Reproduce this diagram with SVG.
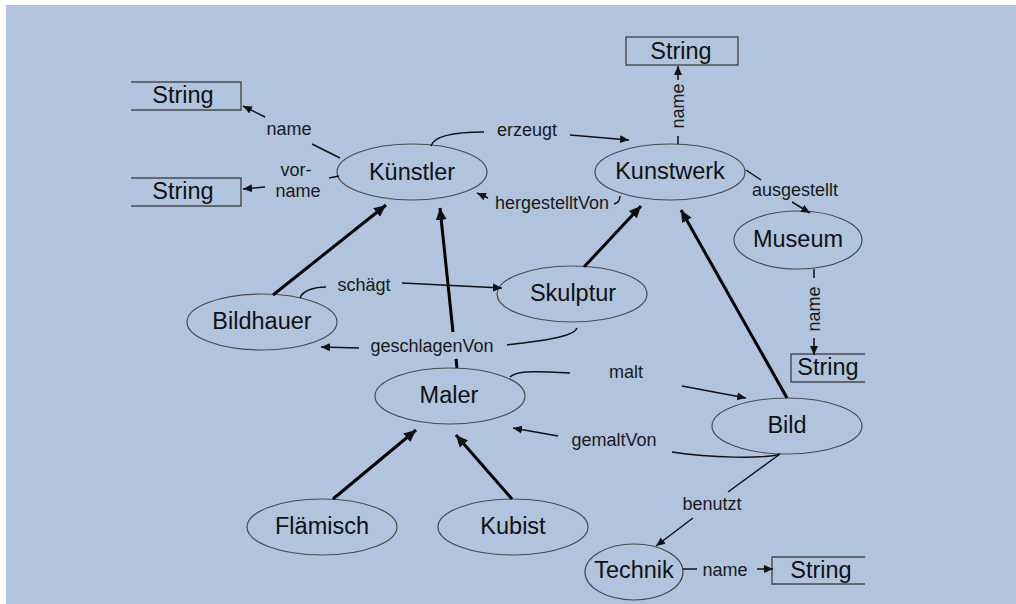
<svg xmlns="http://www.w3.org/2000/svg" width="1016" height="604" viewBox="0 0 1016 604">
  <defs>
    <marker id="ah" markerUnits="userSpaceOnUse" markerWidth="10" markerHeight="10" refX="9" refY="5" orient="auto">
      <path d="M0,1 L9,5 L0,9 Z" fill="#111"/>
    </marker>
    <marker id="ahBig" markerUnits="userSpaceOnUse" markerWidth="14" markerHeight="14" refX="12" refY="7" orient="auto">
      <path d="M0,1.5 L12,7 L0,12.5 Z" fill="#111"/>
    </marker>
    <style>
      .node ellipse { fill: none; stroke: #4a4a4a; stroke-width: 1.2; }
      .box { fill: none; stroke: #4a4a4a; stroke-width: 1.4; }
      .lbl { font-family: "Liberation Sans", Arial, sans-serif; font-size: 23.5px; fill: #111; text-anchor: middle; }
      .elbl { font-family: "Liberation Sans", Arial, sans-serif; font-size: 18px; fill: #1a1a1a; text-anchor: middle; }
      .thin { fill: none; stroke: #111; stroke-width: 1.5; }
      .thick { fill: none; stroke: #000; stroke-width: 3; }
    </style>
  </defs>

  <rect x="0" y="0" width="1016" height="604" fill="#ffffff"/>
  <rect x="6" y="5" width="1010" height="599" fill="#b0c4de"/>

  <!-- classes -->
  <g id="kuenstler" class="node"><ellipse cx="412" cy="172" rx="75" ry="28"/><text class="lbl" x="412" y="180">Künstler</text></g>
  <g id="kunstwerk" class="node"><ellipse cx="670" cy="172" rx="75" ry="28"/><text class="lbl" x="670" y="179">Kunstwerk</text></g>
  <g id="museum" class="node"><ellipse cx="798" cy="240" rx="64" ry="29"/><text class="lbl" x="798" y="247">Museum</text></g>
  <g id="skulptur" class="node"><ellipse cx="572" cy="294" rx="75" ry="28"/><text class="lbl" x="573" y="301">Skulptur</text></g>
  <g id="bildhauer" class="node"><ellipse cx="262" cy="322" rx="75" ry="28"/><text class="lbl" x="262" y="329">Bildhauer</text></g>
  <g id="maler" class="node"><ellipse cx="450" cy="396" rx="75" ry="28"/><text class="lbl" x="449" y="403">Maler</text></g>
  <g id="bild" class="node"><ellipse cx="787" cy="426" rx="75" ry="28"/><text class="lbl" x="787" y="433">Bild</text></g>
  <g id="flaemisch" class="node"><ellipse cx="322" cy="527" rx="75" ry="28"/><text class="lbl" x="322" y="534">Flämisch</text></g>
  <g id="kubist" class="node"><ellipse cx="513" cy="527" rx="75" ry="28"/><text class="lbl" x="513" y="534">Kubist</text></g>
  <g id="technik" class="node"><ellipse cx="634" cy="572" rx="49" ry="28"/><text class="lbl" x="634" y="578">Technik</text></g>

  <!-- datatype boxes -->
  <g id="string-kuenstler-name"><path class="box" d="M131,82 H241 V110 H131"/><text class="lbl" x="183" y="103">String</text></g>
  <g id="string-kuenstler-vorname"><path class="box" d="M131,178 H241 V206 H131"/><text class="lbl" x="183" y="199">String</text></g>
  <g id="string-kunstwerk-name"><rect class="box" x="626" y="37" width="112" height="28"/><text class="lbl" x="681" y="59">String</text></g>
  <g id="string-museum-name"><path class="box" d="M865,354 H791 V382 H865"/><text class="lbl" x="828" y="375">String</text></g>
  <g id="string-technik-name"><path class="box" d="M865,557 H772 V584 H865"/><text class="lbl" x="821" y="578">String</text></g>

  <!-- relations and inheritance -->
  <g id="connectors">
    <!-- Künstler.name -->
    <line class="thin" x1="340" y1="158" x2="312" y2="144"/>
    <line class="thin" x1="265" y1="117" x2="243" y2="106" marker-end="url(#ah)"/>
    <text class="elbl" x="289" y="135">name</text>
    <!-- Künstler.vorname -->
    <line class="thin" x1="339" y1="176" x2="329" y2="178"/>
    <line class="thin" x1="265" y1="187" x2="243" y2="189" marker-end="url(#ah)"/>
    <text class="elbl" x="296" y="176">vor-</text>
    <text class="elbl" x="298" y="197">name</text>
    <!-- erzeugt -->
    <path class="thin" d="M431,146 C434,135 458,132 484,132"/>
    <line class="thin" x1="570" y1="135" x2="629" y2="140" marker-end="url(#ah)"/>
    <text class="elbl" x="527" y="136">erzeugt</text>
    <!-- hergestelltVon -->
    <path class="thin" d="M620,196 C620,200 618,203 614,204"/>
    <line class="thin" x1="488" y1="198" x2="477" y2="193" marker-end="url(#ah)"/>
    <text class="elbl" x="552" y="209">hergestelltVon</text>
    <!-- Kunstwerk.name -->
    <line class="thin" x1="678" y1="144" x2="678" y2="136"/>
    <line class="thin" x1="678" y1="80" x2="678" y2="66" marker-end="url(#ah)"/>
    <text class="elbl" transform="translate(684,106) rotate(-90)">name</text>
    <!-- ausgestellt -->
    <line class="thin" x1="746" y1="170" x2="761" y2="180"/>
    <line class="thin" x1="792" y1="202" x2="810" y2="213" marker-end="url(#ah)"/>
    <text class="elbl" x="795" y="196">ausgestellt</text>
    <!-- Museum.name -->
    <line class="thin" x1="814" y1="269" x2="814" y2="278"/>
    <line class="thin" x1="814" y1="338" x2="814" y2="355" marker-end="url(#ah)"/>
    <text class="elbl" transform="translate(820,309) rotate(-90)">name</text>
    <!-- schägt -->
    <path class="thin" d="M300,298 C303,290 315,287 326,287"/>
    <line class="thin" x1="402" y1="283" x2="502" y2="288" marker-end="url(#ah)"/>
    <text class="elbl" x="364" y="291">schägt</text>
    <!-- geschlagenVon -->
    <path class="thin" d="M577,328 C574,337 540,341 507,345"/>
    <line class="thin" x1="359" y1="348" x2="321" y2="347" marker-end="url(#ah)"/>
    <text class="elbl" x="432" y="352">geschlagenVon</text>
    <!-- malt -->
    <path class="thin" d="M510,377 C516,371 530,371 570,373"/>
    <line class="thin" x1="682" y1="386" x2="746" y2="398" marker-end="url(#ah)"/>
    <text class="elbl" x="626" y="378">malt</text>
    <!-- gemaltVon -->
    <path class="thin" d="M780,454 C765,459 710,458 672,452"/>
    <line class="thin" x1="558" y1="436" x2="513" y2="428" marker-end="url(#ah)"/>
    <text class="elbl" x="614" y="446">gemaltVon</text>
    <!-- benutzt -->
    <line class="thin" x1="780" y1="454" x2="728" y2="492"/>
    <line class="thin" x1="693" y1="518" x2="656" y2="546" marker-end="url(#ah)"/>
    <text class="elbl" x="712" y="510">benutzt</text>
    <!-- Technik.name -->
    <line class="thin" x1="683" y1="569" x2="697" y2="569"/>
    <line class="thin" x1="757" y1="569" x2="773" y2="569" marker-end="url(#ah)"/>
    <text class="elbl" x="725" y="576">name</text>

    <!-- subclass links -->
    <line class="thick" x1="273" y1="295" x2="386" y2="205" marker-end="url(#ahBig)"/>
    <line class="thick" x1="457" y1="368" x2="456" y2="359"/>
    <line class="thick" x1="453" y1="332" x2="440" y2="208" marker-end="url(#ahBig)"/>
    <line class="thick" x1="584" y1="267" x2="641" y2="206" marker-end="url(#ahBig)"/>
    <line class="thick" x1="787" y1="398" x2="681" y2="210" marker-end="url(#ahBig)"/>
    <line class="thick" x1="333" y1="499" x2="416" y2="430" marker-end="url(#ahBig)"/>
    <line class="thick" x1="512" y1="499" x2="456" y2="435" marker-end="url(#ahBig)"/>
  </g>
</svg>
